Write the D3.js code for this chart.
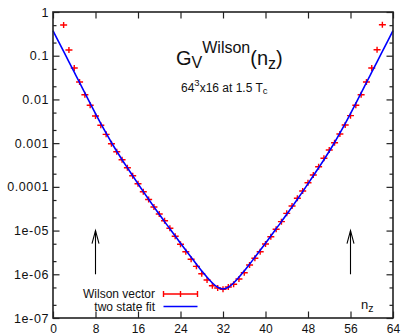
<!DOCTYPE html>
<html>
<head>
<meta charset="utf-8">
<script src="https://cdn.jsdelivr.net/npm/d3@7"></script>
<style>
  body { margin: 0; background: #fff; }
  svg { display: block; font-family: "Liberation Sans", Arial, sans-serif; }
</style>
</head>
<body>
<svg id="chart" width="403" height="335"></svg>
<script>
// lattice sites n_z
const wilsonN = d3.range(2, 63);
const fitN = d3.range(0, 65);

// Wilson vector correlator (n_z = 2 .. 62)
const wilsonVector = [
  0.504, 0.135, 0.0524, 0.0250, 0.0128, 0.00734, 0.00418, 0.00256, 0.00159, 0.00097,
  0.000637, 0.000418, 0.000274, 0.000180, 0.000118, 7.74e-5, 5.14e-5, 3.46e-5, 2.39e-5, 1.68e-5,
  1.13e-5, 7.40e-6, 4.85e-6, 3.29e-6, 2.20e-6, 1.52e-6, 1.03e-6, 7.40e-7, 5.48e-7, 4.85e-7,
  4.53e-7,
  5.12e-7, 5.90e-7, 7.80e-7, 1.087e-6, 1.63e-6, 2.32e-6, 3.29e-6, 4.93e-6, 7.24e-6, 1.07e-5,
  1.60e-5, 2.48e-5, 3.65e-5, 5.47e-5, 8.04e-5, 1.245e-4, 1.87e-4, 2.89e-4, 4.50e-4, 6.97e-4,
  1.02e-3, 1.62e-3, 2.60e-3, 4.25e-3, 7.34e-3, 0.0128, 0.0250, 0.0524, 0.137, 0.512
];

// two state fit curve (n_z = 0 .. 64)
const twoStateFit = [
  0.373, 0.216, 0.125, 0.0722, 0.0420, 0.0244, 0.01403, 0.00811, 0.00474, 0.00281,
  0.00169, 0.001034, 0.000651, 0.000418, 0.000273, 0.000179, 0.000118, 7.79e-5, 5.19e-5, 3.48e-5,
  2.36e-5, 1.60e-5, 1.10e-5, 7.51e-6, 5.14e-6, 3.54e-6, 2.45e-6, 1.70e-6, 1.195e-6, 8.53e-7,
  6.32e-7, 5.04e-7, 4.61e-7,
  5.04e-7, 6.32e-7, 8.53e-7, 1.195e-6, 1.70e-6, 2.45e-6, 3.54e-6, 5.14e-6, 7.51e-6, 1.10e-5,
  1.60e-5, 2.36e-5, 3.48e-5, 5.19e-5, 7.79e-5, 0.000118, 0.000179, 0.000273, 0.000418, 0.000651,
  0.001034, 0.00169, 0.00281, 0.00474, 0.00811, 0.01403, 0.0244, 0.0420, 0.0722, 0.125,
  0.216, 0.373
];

const xTicks = [0, 8, 16, 24, 32, 40, 48, 56, 64];
const yTicks = [1e-7, 1e-6, 1e-5, 1e-4, 1e-3, 1e-2, 1e-1, 1];
const yTickLabels = ["1e-07", "1e-06", "1e-05", "0.0001", "0.001", "0.01", "0.1", "1"];
const yMinorTicks = [2e-7, 5e-7, 2e-6, 5e-6, 2e-5, 5e-5, 2e-4, 5e-4, 2e-3, 5e-3, 2e-2, 5e-2, 0.2, 0.5];
const arrowX = [8, 56];
const arrowFrom = 1e-6, arrowTo = 1e-5;

const plotLeft = 53, plotRight = 393, plotTop = 12, plotBottom = 318;

const svg = d3.select("#chart");
const x = d3.scaleLinear().domain([0, 64]).range([plotLeft, plotRight]);
const y = d3.scaleLog().domain([1e-7, 1]).range([plotBottom, plotTop]);

const axisColor = "#222";

function styleAxis(g) {
  g.select(".domain").remove();
  g.selectAll(".tick line").attr("stroke", axisColor).attr("stroke-width", 1.2);
  g.selectAll(".tick text")
    .attr("fill", "#111")
    .style("font-size", "12px")
    .style("font-family", '"Liberation Sans", Arial, sans-serif');
}

// bottom + top
svg.append("g")
  .attr("transform", `translate(0,${plotBottom})`)
  .call(d3.axisBottom(x).tickValues(xTicks).tickFormat(d3.format("d")).tickSize(-6.5).tickPadding(6))
  .call(styleAxis);
svg.append("g")
  .attr("transform", `translate(0,${plotTop})`)
  .call(d3.axisTop(x).tickValues(xTicks).tickFormat("").tickSize(-6.5))
  .call(styleAxis);

// left + right, majors and minors
svg.append("g")
  .attr("transform", `translate(${plotLeft},0)`)
  .call(d3.axisLeft(y).tickValues(yTicks).tickFormat((d, i) => yTickLabels[i]).tickSize(-6.5).tickPadding(4))
  .call(styleAxis)
  .call(g => g.selectAll(".tick text").style("font-size", "12.5px").style("letter-spacing", "0.6px"));
svg.append("g")
  .attr("transform", `translate(${plotLeft},0)`)
  .call(d3.axisLeft(y).tickValues(yMinorTicks).tickFormat("").tickSize(-3.5))
  .call(styleAxis);
svg.append("g")
  .attr("transform", `translate(${plotRight},0)`)
  .call(d3.axisRight(y).tickValues(yTicks).tickFormat("").tickSize(-6.5))
  .call(styleAxis);
svg.append("g")
  .attr("transform", `translate(${plotRight},0)`)
  .call(d3.axisRight(y).tickValues(yMinorTicks).tickFormat("").tickSize(-3.5))
  .call(styleAxis);

// Wilson vector points (+)
svg.append("g")
  .attr("stroke", "#ff0000")
  .attr("stroke-width", 1.4)
  .selectAll("path")
  .data(wilsonN.map((n, i) => ({ n, v: wilsonVector[i] })))
  .enter()
  .append("path")
  .attr("d", d => {
    const px = x(d.n), py = y(d.v);
    return `M${px - 3.5},${py}H${px + 3.5}M${px},${py - 3}V${py + 3}`;
  });

// two state fit
const line = d3.line()
  .x((d, i) => x(fitN[i]))
  .y(d => y(d))
  .curve(d3.curveMonotoneX);

svg.append("path")
  .datum(twoStateFit)
  .attr("fill", "none")
  .attr("stroke", "#0000ff")
  .attr("stroke-width", 1.6)
  .attr("d", line);

// frame
svg.append("rect")
  .attr("x", plotLeft).attr("y", plotTop)
  .attr("width", plotRight - plotLeft).attr("height", plotBottom - plotTop)
  .attr("fill", "none")
  .attr("stroke", axisColor)
  .attr("stroke-width", 1.6);

// arrows
const arrows = svg.append("g").attr("stroke", "#000").attr("stroke-width", 1.1).attr("fill", "none");
arrowX.forEach(a => {
  const ax = x(a), y0 = y(arrowFrom), y1 = y(arrowTo);
  arrows.append("path").attr("d", `M${ax},${y0}V${y1}`);
  arrows.append("path").attr("d", `M${ax - 3.5},${y1 + 13}L${ax},${y1}L${ax + 3.5},${y1 + 13}`);
});

// title
const title = svg.append("text").attr("x", 176).attr("y", 64.5).attr("fill", "#111").style("font-size", "20px");
title.append("tspan").text("G");
title.append("tspan").attr("y", 67.5).style("font-size", "16px").text("V");
title.append("tspan").attr("y", 53).style("font-size", "16px").text("Wilson");
title.append("tspan").attr("y", 64.5).text("(n");
title.append("tspan").attr("y", 68.5).style("font-size", "16px").text("z");
title.append("tspan").attr("y", 64.5).text(")");

const sub = svg.append("text").attr("x", 181).attr("y", 91.5).attr("fill", "#111").style("font-size", "12px");
sub.append("tspan").text("64");
sub.append("tspan").attr("y", 86).style("font-size", "9.5px").text("3");
sub.append("tspan").attr("y", 91.5).text("x16 at 1.5 T");
sub.append("tspan").attr("y", 94).style("font-size", "9.5px").text("c");

// n_z label
const nzl = svg.append("text").attr("x", 361).attr("y", 308.5).attr("fill", "#111").style("font-size", "13px");
nzl.append("tspan").text("n");
nzl.append("tspan").attr("y", 312).style("font-size", "10.5px").text("z");

// legend
const legend = svg.append("g").style("font-size", "12px").attr("fill", "#111");
legend.append("text").attr("x", 155).attr("y", 297.5).attr("text-anchor", "end").text("Wilson vector");
legend.append("text").attr("x", 155).attr("y", 310.7).attr("text-anchor", "end").text("two state fit");
const lx0 = 163.5, lx1 = 197.5, ly0 = 294, ly1 = 306.5;
legend.append("path")
  .attr("stroke", "#ff0000").attr("stroke-width", 1.4).attr("fill", "none")
  .attr("d", `M${lx0},${ly0}H${lx1}M${lx0},${ly0 - 3}V${ly0 + 3}M${lx1},${ly0 - 3}V${ly0 + 3}M${(lx0 + lx1) / 2},${ly0 - 3}V${ly0 + 3}`);
legend.append("path")
  .attr("stroke", "#0000ff").attr("stroke-width", 1.6)
  .attr("d", `M${lx0},${ly1}H${lx1}`);
</script>
</body>
</html>
